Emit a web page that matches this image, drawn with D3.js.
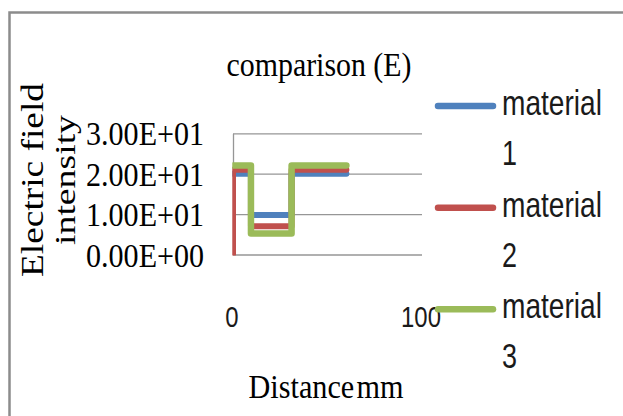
<!DOCTYPE html>
<html>
<head>
<meta charset="utf-8">
<script src="https://cdn.jsdelivr.net/npm/d3@7"></script>
<style>
  html, body { margin: 0; padding: 0; background: #fff; }
  svg { display: block; }
</style>
</head>
<body>
<svg id="chart" width="623" height="416"></svg>
<script>
// ---- data ----
const distance   = [0, 0, 9.5, 9.5, 31, 31, 60];
const material1  = [20, 20, 20, 9.8, 9.8, 20, 20];
const material2  = [0, 21, 21, 7, 7, 21, 21];
const material3  = [22, 22, 22, 5.2, 5.2, 22, 22];
const seriesNames = ["material 1", "material 2", "material 3"];
const seriesColors = ["#4F81BD", "#C0504D", "#9BBB59"];
const yTickValues = [0, 10, 20, 30];
const yTickLabels = ["0.00E+00", "1.00E+01", "2.00E+01", "3.00E+01"];
const xTickValues = [0, 100];
const xTickLabels = ["0", "100"];
const titleText = "comparison (E)";
const yTitleLines = ["Electric field", "intensity"];
const xTitleText = "Distance mm";

const serif = "'Liberation Serif', 'Times New Roman', serif";
const sans = "'Liberation Sans', Arial, sans-serif";

const svg = d3.select("#chart");

// squeeze a text horizontally (around its own origin) to a target width
function fitWidth(sel, w) {
  sel.each(function () {
    const n = this.getComputedTextLength();
    if (n > 0) {
      const prev = this.getAttribute("data-base") || "";
      this.setAttribute("transform", `${prev} scale(${w / n},1)`);
    }
  });
}

// outer border (only top and left visible)
svg.append("rect")
  .attr("x", 9.5).attr("y", 12.5)
  .attr("width", 700).attr("height", 500)
  .attr("fill", "#fff")
  .attr("stroke", "#8c8c8c").attr("stroke-width", 2.5);

const x = d3.scaleLinear().domain([0, 100]).range([233, 422]);
const y = d3.scaleLinear().domain([0, 30]).range([254.5, 133.3]);

// y axis with gridlines
const yAxis = svg.append("g")
  .attr("transform", `translate(${x(0)},0)`)
  .call(d3.axisLeft(y)
    .tickValues(yTickValues)
    .tickSize(-(x(100) - x(0)))
    .tickSizeOuter(0)
    .tickFormat((d, i) => yTickLabels[i]));
yAxis.select(".domain").attr("stroke", "#969696").attr("stroke-width", 1.3);
yAxis.selectAll(".tick line").attr("stroke", "#969696").attr("stroke-width", 1.3);
yAxis.selectAll(".tick text")
  .attr("x", 0).attr("dy", null).attr("y", 0)
  .attr("data-base", "translate(-29,11.5)")
  .attr("text-anchor", "end")
  .attr("font-family", serif)
  .attr("font-size", 34)
  .attr("fill", "#000")
  .call(fitWidth, 118);

// x axis labels
const xAxis = svg.append("g")
  .attr("transform", `translate(0,${y(0)})`)
  .call(d3.axisBottom(x)
    .tickValues(xTickValues)
    .tickSize(0)
    .tickFormat((d, i) => xTickLabels[i]));
xAxis.select(".domain").remove();
xAxis.selectAll(".tick text")
  .attr("dy", null).attr("y", 0).attr("x", 0)
  .attr("data-base", "translate(-1.5,72.5)")
  .attr("font-family", sans)
  .attr("font-size", 30)
  .attr("fill", "#1a1a1a")
  .each(function (d, i) { d3.select(this).call(fitWidth, xTickLabels[i].length * 13.3); });

// clip for the series
svg.append("clipPath").attr("id", "plotclip")
  .append("rect")
  .attr("x", 232.3).attr("y", 100)
  .attr("width", 422 - 232.3 + 10).attr("height", 255.5 - 100);

const allSeries = [material1, material2, material3];
const widths = [6, 6, 6.5];
const line = d3.line()
  .x((d, i) => x(distance[i]))
  .y(d => y(d));

const seriesG = svg.append("g").attr("clip-path", "url(#plotclip)");
allSeries.forEach((vals, k) => {
  seriesG.append("path")
    .datum(vals)
    .attr("d", line)
    .attr("fill", "none")
    .attr("stroke", seriesColors[k])
    .attr("stroke-width", widths[k])
    .attr("stroke-linecap", "round")
    .attr("stroke-linejoin", "round");
});

// title
svg.append("text")
  .attr("data-base", "translate(319,76)")
  .attr("text-anchor", "middle")
  .attr("font-family", serif)
  .attr("font-size", 33)
  .attr("fill", "#000")
  .text(titleText)
  .call(fitWidth, 185);

// x axis title
svg.append("text")
  .attr("data-base", "translate(326,398)")
  .attr("text-anchor", "middle")
  .attr("font-family", serif)
  .attr("font-size", 34)
  .attr("word-spacing", -6)
  .attr("fill", "#000")
  .text(xTitleText)
  .call(fitWidth, 155);

// y axis title (two lines, rotated)
const yTitleBaselines = [43, 75];
const yTitleLengths = [194, 130];
yTitleLines.forEach((t, i) => {
  svg.append("text")
    .attr("data-base", `translate(${yTitleBaselines[i]},180) rotate(-90)`)
    .attr("text-anchor", "middle")
    .attr("font-family", serif)
    .attr("font-size", 30.5)
    .attr("fill", "#000")
    .text(t)
    .call(fitWidth, yTitleLengths[i]);
});

// legend
const legendY = [106, 207.7, 309.3];
const legend = svg.append("g");
seriesNames.forEach((name, k) => {
  const g = legend.append("g").attr("transform", `translate(0,${legendY[k]})`);
  g.append("line")
    .attr("x1", 438).attr("x2", 493)
    .attr("y1", 0).attr("y2", 0)
    .attr("stroke", seriesColors[k])
    .attr("stroke-width", 6.5)
    .attr("stroke-linecap", "round");
  const parts = name.split(" ");
  g.append("text")
    .attr("data-base", "translate(502,9)")
    .attr("font-family", sans)
    .attr("font-size", 35)
    .attr("fill", "#1a1a1a")
    .text(parts[0])
    .call(fitWidth, 100);
  g.append("text")
    .attr("data-base", "translate(502,59)")
    .attr("font-family", sans)
    .attr("font-size", 35)
    .attr("fill", "#1a1a1a")
    .text(parts[1])
    .call(fitWidth, 15);
});
</script>
</body>
</html>
